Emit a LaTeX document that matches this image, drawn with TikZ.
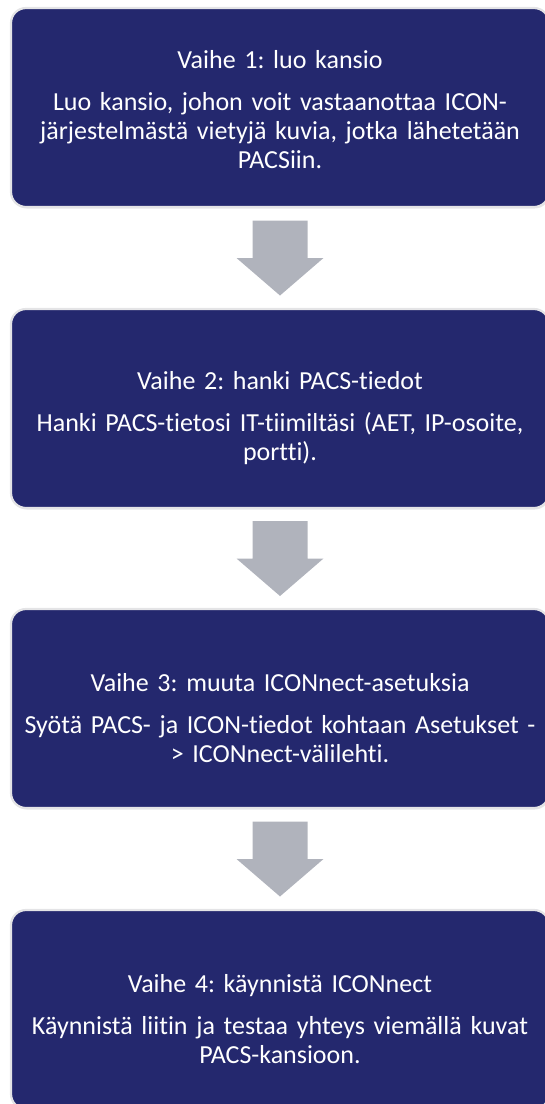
\documentclass[tikz,border=0pt]{standalone}
\usepackage{fontspec}
\setmainfont{Carlito}[Ligatures={NoCommon,NoRequired,NoContextual}]
\usepackage{tikz}
\usetikzlibrary{calc,positioning,shadows}
\frenchspacing
\definecolor{stepnavy}{RGB}{36,40,110}
\definecolor{stepedge}{RGB}{228,228,230}
\definecolor{arrowgrey}{RGB}{176,179,188}
\tikzset{
  toppad/.style={execute at begin node={\rule{0pt}{#1}}},
  stepbox/.style={draw=stepedge, line width=2.2pt, fill=stepnavy,
                  minimum width=538pt, minimum height=199pt,
                  rounded corners=15pt, text width=530pt,
                  align=center, text=white, inner sep=0pt,
                  font=\fontsize{26}{29}\selectfont, toppad=22pt,
                  drop shadow={opacity=0.18, shadow xshift=0.8pt, shadow yshift=-1.5pt}},
  shortbox/.style={stepbox, toppad=37pt},
  blockarrow/.style={fill=arrowgrey, draw=none},
}

\begin{document}
\begin{tikzpicture}[x=1pt,y=1pt]
  \path[use as bounding box] (0,0) rectangle (545,-1104);

  \node[stepbox] (s1) at (280,-107.5)
    {Vaihe 1: luo kansio\\[13pt]
     Luo kansio, johon voit vastaanottaa ICON-\\
     järjestelmästä vietyjä kuvia, jotka lähetetään\\
     PACSiin.};
  \node[shortbox] (s2) at (280,-408.5)
    {Vaihe 2: hanki PACS-tiedot\\[13pt]
     Hanki PACS-tietosi IT-tiimiltäsi (AET, IP-osoite,\\
     portti).};
  \node[shortbox] (s3) at (280,-708.5)
    {Vaihe 3: muuta ICONnect-asetuksia\\[13pt]
     Syötä PACS- ja ICON-tiedot kohtaan Asetukset -\\
     > ICONnect-välilehti.};
  \node[shortbox] (s4) at (280,-1009.5)
    {Vaihe 4: käynnistä ICONnect\\[13pt]
     Käynnistä liitin ja testaa yhteys viemällä kuvat\\
     PACS-kansioon.};

  % grey block arrows between the steps
  \foreach \a/\b in {1/2,2/3,3/4} {
    \coordinate (m\a) at ($(s\a.south)!0.5!(s\b.north)$);
    \fill[blockarrow] ($(m\a)+(-27.5,37.5)$) -- ($(m\a)+(27.5,37.5)$)
      -- ($(m\a)+(27.5,0)$) -- ($(m\a)+(43.5,0)$) -- ($(m\a)+(0,-37.5)$)
      -- ($(m\a)+(-43.5,0)$) -- ($(m\a)+(-27.5,0)$) -- cycle;
  }
\end{tikzpicture}
\end{document}
